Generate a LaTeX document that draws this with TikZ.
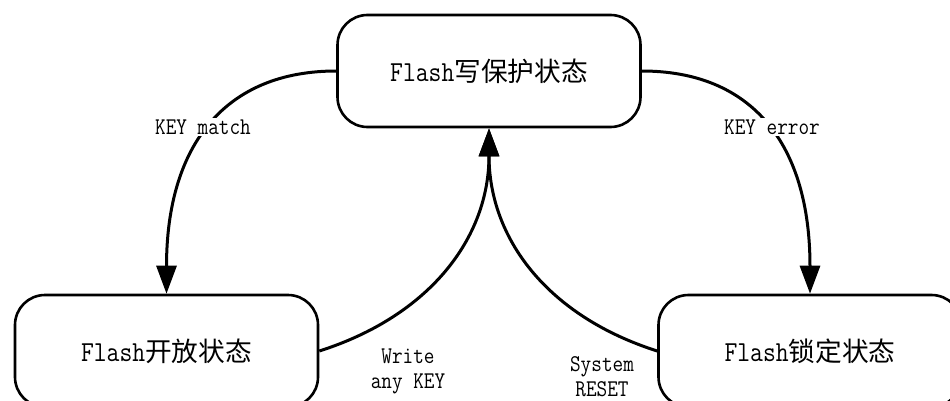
\documentclass[tikz,border=0pt]{standalone}
\usepackage{fontspec}
\setmainfont{Latin Modern Mono}[FakeStretch=0.86]
\newfontfamily\cjk{Noto Sans CJK SC}[Scale=0.92]
\usetikzlibrary{arrows.meta}
\begin{document}
\begin{tikzpicture}[x=1pt,y=-1pt,
  state/.style={draw,line width=2.6pt,rounded corners=30pt,minimum width=303pt,minimum height=112pt,inner sep=0pt,font=\fontsize{29}{34}\selectfont},
  conn/.style={line width=3pt,-{Triangle[length=28pt,width=20pt]}},
  lbl/.style={font=\fontsize{24}{25}\selectfont,fill=white,inner sep=2pt,align=center},
  txt/.style={font=\fontsize{24}{25}\selectfont,inner sep=0pt,align=center}]
\useasboundingbox (0,0) rectangle (950,401);
\node[state] (wp) at (489,71) {Flash{\cjk 写保护状态}};
\node[state] (open) at (166.5,351) {Flash{\cjk 开放状态}};
\node[state] (lock) at (810,351) {Flash{\cjk 锁定状态}};
\draw[conn] (wp.west) .. controls +(-110,0) and +(0,-150) .. (open.north);
\draw[conn] (wp.east) .. controls +(110,0) and +(0,-150) .. (lock.north);
\draw[conn] (open.east) .. controls +(110,-35) and +(0,110) .. (wp.south);
\draw[conn] (lock.west) .. controls +(-110,-35) and +(0,110) .. (wp.south);
\node[lbl] (km) at (203,127) {KEY match};
\node[lbl] (ke) at (772,127) {KEY error};
\node[txt] (wk) at (408,371) {Write\\any KEY};
\node[txt] (sr) at (602,377) {System\\RESET};
\end{tikzpicture}
\end{document}
